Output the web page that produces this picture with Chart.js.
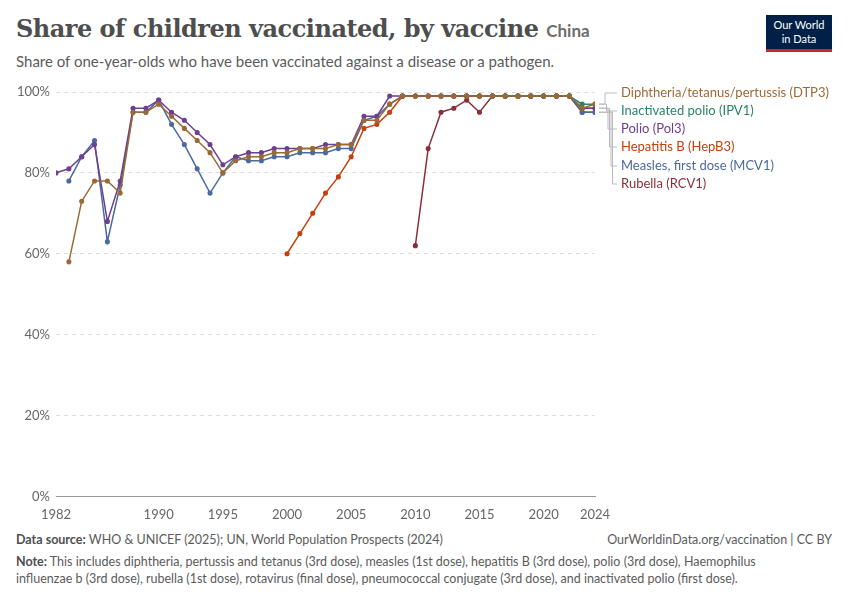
<!DOCTYPE html>
<html>
<head>
<meta charset="utf-8">
<script src="https://cdn.jsdelivr.net/npm/chart.js@4"></script>
<style>
  body { margin: 0; width: 850px; height: 600px; background: #fff; font-family: Lato, sans-serif; position: relative; overflow: hidden; }
  #title { position: absolute; left: 16px; top: 14px; font-family: "DejaVu Serif", serif; font-size: 24px; font-weight: bold; color: #4e4e4e; letter-spacing: -0.5px; }
  #title span { font-family: Lato, sans-serif; font-size: 17px; color: #6d6d6d; font-weight: bold; letter-spacing: 0; }
  #subtitle { position: absolute; left: 16px; top: 52px; font-size: 15px; color: #5b5b5b; }
  #logo { position: absolute; right: 18px; top: 15px; width: 66px; height: 37px; background: #002147; color: #fff; font-size: 11px; text-align: center; line-height: 14px; padding-top: 3px; box-sizing: border-box; border-bottom: 3px solid #ce261e; }
  #wrap { position: absolute; left: 0; top: 70px; width: 850px; height: 460px; }
  #source { position: absolute; left: 16px; top: 532px; font-size: 12.5px; color: #5b5b5b; }
  #right { position: absolute; right: 18px; top: 532px; font-size: 12.5px; color: #5b5b5b; }
  #note { position: absolute; left: 16px; top: 553px; width: 790px; font-size: 12.5px; color: #5b5b5b; line-height: 17px; }
  b { color: #4e4e4e; }
</style>
</head>
<body>
<div id="title">Share of children vaccinated, by vaccine <span>China</span></div>
<div id="subtitle">Share of one-year-olds who have been vaccinated against a disease or a pathogen.</div>
<div id="logo">Our World<br>in Data</div>
<div id="wrap"><canvas id="chart" width="850" height="460"></canvas></div>
<div id="source"><b>Data source:</b> WHO &amp; UNICEF (2025); UN, World Population Prospects (2024)</div>
<div id="right">OurWorldinData.org/vaccination | CC BY</div>
<div id="note"><b>Note:</b> This includes diphtheria, pertussis and tetanus (3rd dose), measles (1st dose), hepatitis B (3rd dose), polio (3rd dose), Haemophilus influenzae b (3rd dose), rubella (1st dose), rotavirus (final dose), pneumococcal conjugate (3rd dose), and inactivated polio (first dose).</div>
<script>
const years = [];
for (let y = 1982; y <= 2024; y++) years.push(y);
const xTicks = [1982, 1990, 1995, 2000, 2005, 2010, 2015, 2020, 2024];
const yTicks = [0, 20, 40, 60, 80, 100];

// 1982..2024
const dtp3 = [null, 58, 73, 78, 78, 75, 95, 95, 97, 94, 91, 88, 85, 80, 83, 84, 84, 85, 85, 86, 86, 86, 87, 87, 93, 93, 97, 99,
  99, 99, 99, 99, 99, 99, 99, 99, 99, 99, 99, 99, 99, 96, 97];
const pol3 = [80, 81, 84, 87, 68, 78, 96, 96, 98, 95, 93, 90, 87, 82, 84, 85, 85, 86, 86, 86, 86, 87, 87, 87, 94, 94, 99, 99,
  99, 99, 99, 99, 99, 99, 99, 99, 99, 99, 99, 99, 99, 96, 96];
const mcv1 = [null, 78, 84, 88, 63, 77, 95, 95, 98, 92, 87, 81, 75, 80, 84, 83, 83, 84, 84, 85, 85, 85, 86, 86, 93, 94, 97, 99,
  99, 99, 99, 99, 99, 99, 99, 99, 99, 99, 99, 99, 99, 95, 95];
const hepb3 = [null, null, null, null, null, null, null, null, null, null, null, null, null, null, null, null, null, null,
  60, 65, 70, 75, 79, 84, 91, 92, 95, 99, 99, 99, 99, 99, 99, 99, 99, 99, 99, 99, 99, 99, 99, 96, 96];
const ipv1 = [null, null, null, null, null, null, null, null, null, null, null, null, null, null, null, null, null, null,
  null, null, null, null, null, null, null, null, null, null, null, null, null, null, null, 99, 99, 99, 99, 99, 99, 99, 99, 97, 97];
const rcv1 = [null, null, null, null, null, null, null, null, null, null, null, null, null, null, null, null, null, null,
  null, null, null, null, null, null, null, null, null, null, 62, 86, 95, 96, 98, 95, 99, 99, 99, 99, 99, 99, 99, 95, 95];

const series = [
  { label: 'Diphtheria/tetanus/pertussis (DTP3)', data: dtp3, color: '#9a6a36', ly: 93 },
  { label: 'Inactivated polio (IPV1)', data: ipv1, color: '#2c8465', ly: 111 },
  { label: 'Polio (Pol3)', data: pol3, color: '#6d3e91', ly: 129 },
  { label: 'Hepatitis B (HepB3)', data: hepb3, color: '#c4400f', ly: 147 },
  { label: 'Measles, first dose (MCV1)', data: mcv1, color: '#4c6a9c', ly: 166 },
  { label: 'Rubella (RCV1)', data: rcv1, color: '#883039', ly: 184 }
];

const sideLabels = {
  id: 'sideLabels',
  afterDatasetsDraw(chart) {
    const ctx = chart.ctx, ys = chart.scales.y, xs = chart.scales.x;
    ctx.save();
    ctx.font = '13px Lato';
    ctx.textBaseline = 'middle';
    series.forEach((s, i) => {
      const py = ys.getPixelForValue(s.data[s.data.length - 1]);
      const px = xs.getPixelForValue(2024) + 4;
      const ty = s.ly - 70;
      const vx = px + 6 + i * 1.5;
      ctx.strokeStyle = '#bbb';
      ctx.lineWidth = 1;
      ctx.beginPath();
      ctx.moveTo(px, py); ctx.lineTo(vx, py); ctx.lineTo(vx, ty); ctx.lineTo(px + 18, ty);
      ctx.stroke();
      ctx.fillStyle = s.color;
      ctx.fillText(s.label, px + 22, ty);
    });
    ctx.restore();
  }
};

new Chart(document.getElementById('chart'), {
  type: 'line',
  data: {
    labels: years,
    datasets: series.map(s => ({
      label: s.label,
      data: s.data.map((v, i) => ({ x: years[i], y: v })),
      borderColor: s.color,
      backgroundColor: s.color,
      borderWidth: 1.5,
      pointRadius: 1.8,
      pointHoverRadius: 1.8,
      spanGaps: false
    }))
  },
  options: {
    responsive: false,
    animation: false,
    layout: { padding: { left: 11, right: 255, top: 22, bottom: 4 } },
    plugins: { legend: { display: false }, tooltip: { enabled: false } },
    scales: {
      x: {
        type: 'linear', min: 1982, max: 2024,
        afterBuildTicks: axis => { axis.ticks = xTicks.map(v => ({ value: v })); },
        grid: { display: false },
        border: { color: '#999' },
        ticks: { color: '#666', font: { family: 'Lato', size: 13 }, maxRotation: 0, autoSkip: false, callback: v => String(v) }
      },
      y: {
        min: 0, max: 100,
        afterBuildTicks: axis => { axis.ticks = yTicks.map(v => ({ value: v })); },
        grid: { color: '#ddd', drawTicks: false },
        border: { display: false, dash: [4, 4] },
        ticks: { color: '#666', font: { family: 'Lato', size: 13 }, padding: 6, callback: v => v + '%' }
      }
    }
  },
  plugins: [sideLabels]
});
</script>
</body>
</html>
